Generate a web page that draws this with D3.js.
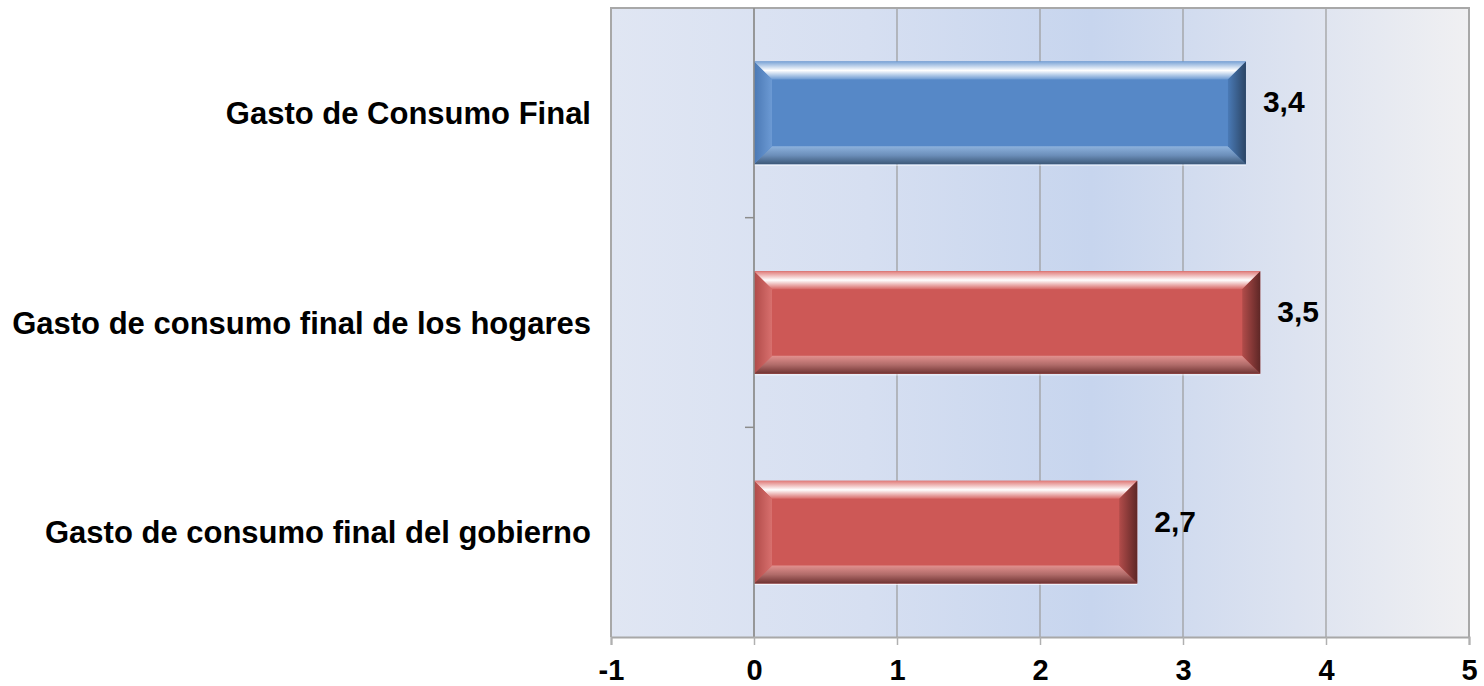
<!DOCTYPE html>
<html><head><meta charset="utf-8">
<script src="https://cdn.jsdelivr.net/npm/d3@7"></script>
<style>
html,body{margin:0;padding:0;background:#fff;}
svg{display:block;font-family:Arial,"Liberation Sans",sans-serif;}
</style></head>
<body><svg id="c" width="1484" height="686"></svg>
<script>
const categories = ["Gasto de Consumo Final", "Gasto de consumo final de los hogares", "Gasto de consumo final del gobierno"];
const values = [3.44, 3.54, 2.68];
const valueLabels = ["3,4", "3,5", "2,7"];
const barColors = ["blue", "red", "red"];
const xTicks = [-1, 0, 1, 2, 3, 4, 5];

const svg = d3.select("#c");
const L = 611, R = 1469, T = 8, B = 637;
const x = d3.scaleLinear().domain([-1, 5]).range([L, R]);
const y = d3.scaleBand().domain(categories).range([T, B]).paddingInner(0.51).paddingOuter(0.255);
const yb = d3.scaleBand().domain(categories).range([T, B]);

const defs = svg.append("defs");
const bg = defs.append("linearGradient").attr("id", "bg").attr("x1", 0).attr("x2", 1).attr("y1", 0).attr("y2", 0);
[[0, "#e0e6f3"], [0.3, "#d6dff1"], [0.56, "#c7d5ee"], [0.8, "#dde3f0"], [1, "#f0f0f2"]].forEach(s =>
  bg.append("stop").attr("offset", s[0]).attr("stop-color", s[1]));

const pal = {
  blue: {body: "#5688c7", top: ["#7aa3d6", "#ffffff", "#6b99d2"], left: ["#4a78b4", "#6c9ad4"], bottom: ["#8db2dd", "#6c8fba", "#3c5878"], right: ["#4a7ab6", "#2b4565"]},
  red: {body: "#cd5856", top: ["#e07a78", "#ffffff", "#d86866"], left: ["#b04a48", "#d8706e"], bottom: ["#e2908e", "#b06b69", "#6e3231"], right: ["#b24c4a", "#5e2726"]}
};
function grad(id, vertical, stops) {
  const g = defs.append("linearGradient").attr("id", id)
    .attr("x1", 0).attr("y1", 0).attr("x2", vertical ? 0 : 1).attr("y2", vertical ? 1 : 0);
  stops.forEach((c, i) => g.append("stop").attr("offset", stops.length === 1 ? 0 : i / (stops.length - 1)).attr("stop-color", c));
}
Object.keys(pal).forEach(k => {
  const p = pal[k];
  grad(k + "top", true, p.top);
  grad(k + "left", false, p.left);
  grad(k + "bottom", true, p.bottom);
  grad(k + "right", false, p.right);
});

// plot background
svg.append("rect").attr("x", L).attr("y", T).attr("width", R - L).attr("height", B - T).attr("fill", "url(#bg)");

// gridlines
svg.append("g").selectAll("line").data(xTicks.filter(d => d > -1 && d < 5)).join("line")
  .attr("x1", d => x(d)).attr("x2", d => x(d)).attr("y1", T).attr("y2", B)
  .attr("stroke", "#9a9a9a").attr("stroke-width", 1.2);

// border (left, top, right)
svg.append("path").attr("d", `M${L},${B}V${T}H${R}V${B}`).attr("fill", "none")
  .attr("stroke", "#a8a8a8").attr("stroke-width", 2);

// bars with bevel
const bev = 18;
const bars = svg.append("g").selectAll("g").data(categories).join("g");
bars.each(function (c, i) {
  const g = d3.select(this);
  const k = barColors[i];
  const x0 = x(0), x1 = x(values[i]), y0 = y(c), y1 = y(c) + y.bandwidth();
  g.append("rect").attr("x", x0).attr("y", y0).attr("width", x1 - x0).attr("height", y1 - y0).attr("fill", pal[k].body);
  const poly = (pts, fill) => g.append("polygon").attr("points", pts.map(p => p.join(",")).join(" ")).attr("fill", fill);
  poly([[x0, y0], [x1, y0], [x1 - bev, y0 + bev], [x0 + bev, y0 + bev]], `url(#${k}top)`);
  poly([[x0, y1], [x1, y1], [x1 - bev, y1 - bev], [x0 + bev, y1 - bev]], `url(#${k}bottom)`);
  poly([[x0, y0], [x0 + bev, y0 + bev], [x0 + bev, y1 - bev], [x0, y1]], `url(#${k}left)`);
  poly([[x1, y0], [x1 - bev, y0 + bev], [x1 - bev, y1 - bev], [x1, y1]], `url(#${k}right)`);
  g.append("line").attr("x1", x0).attr("x2", x1).attr("y1", y1 + 1).attr("y2", y1 + 1).attr("stroke", "#ffffff").attr("stroke-opacity", 0.7);
});

// zero axis with category ticks
svg.append("line").attr("x1", x(0)).attr("x2", x(0)).attr("y1", T).attr("y2", B).attr("stroke", "#8c8c8c").attr("stroke-width", 1.5);
svg.append("g").selectAll("line").data(categories.slice(1)).join("line")
  .attr("x1", x(0) - 9).attr("x2", x(0)).attr("y1", d => yb(d)).attr("y2", d => yb(d))
  .attr("stroke", "#8c8c8c").attr("stroke-width", 1.5);

// x axis
const xAxis = d3.axisBottom(x).tickValues(xTicks).tickSize(8).tickPadding(20).tickFormat(d => d);
const ax = svg.append("g").attr("transform", `translate(0,${B})`).call(xAxis);
ax.select(".domain").attr("stroke", "#a8a8a8").attr("stroke-width", 2);
ax.selectAll(".tick line").attr("stroke", "#b0b0b0").attr("stroke-width", 1.5);
ax.selectAll(".tick text").attr("font-size", 29).attr("font-weight", "bold").attr("fill", "#000")
  .attr("font-family", "Arial, 'Liberation Sans', sans-serif").attr("dy", "0.52em");

// category labels
svg.append("g").selectAll("text").data(categories).join("text")
  .attr("x", 591)
  .attr("y", d => y(d) + y.bandwidth() / 2 + 11)
  .attr("text-anchor", "end").attr("font-size", 31).attr("font-weight", "bold").attr("fill", "#000")
  .text(d => d);

// value labels
svg.append("g").selectAll("text").data(categories).join("text")
  .attr("x", (d, i) => x(values[i]) + 17)
  .attr("y", d => y(d) + y.bandwidth() / 2 - 11 + 10.5)
  .attr("font-size", 30).attr("font-weight", "bold").attr("fill", "#000")
  .text((d, i) => valueLabels[i]);
</script></body></html>
